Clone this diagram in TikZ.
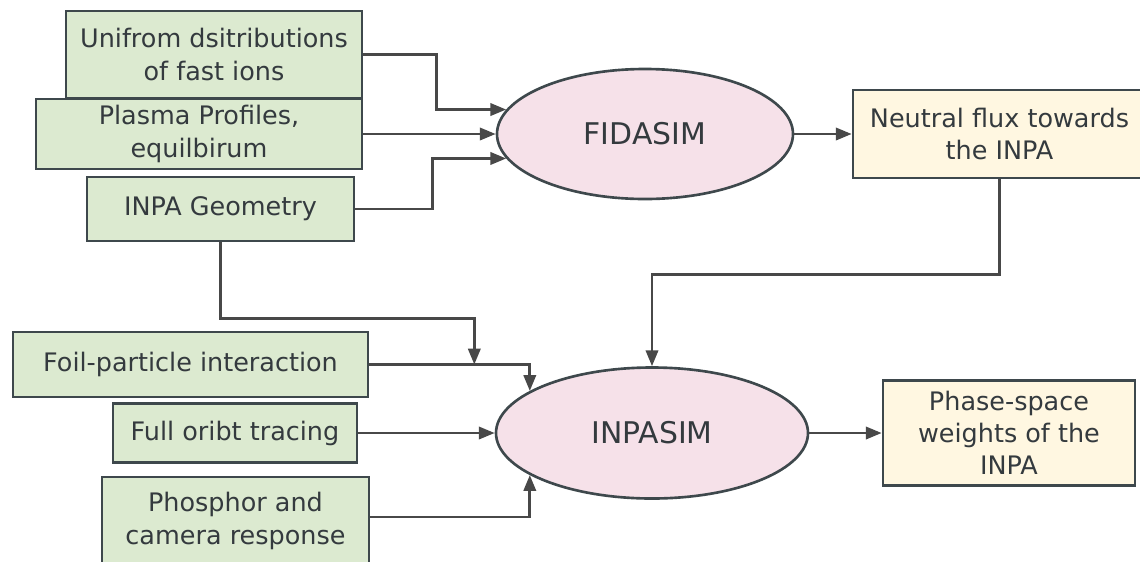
\documentclass[tikz,border=0pt]{standalone}
\usepackage{fontspec}
\setmainfont{DejaVu Sans}
\usepackage{xcolor}
\usetikzlibrary{arrows.meta,calc,positioning,shapes.geometric}
\definecolor{boxgreen}{RGB}{220,234,208}
\definecolor{boxyellow}{RGB}{255,247,225}
\definecolor{simpink}{RGB}{246,225,233}
\definecolor{edgegray}{RGB}{62,72,76}
\definecolor{linegray}{RGB}{72,72,72}
\definecolor{textgray}{RGB}{52,58,62}
\tikzset{%
	source/.style  = {draw=edgegray, fill=boxgreen, rectangle, line width=1.5pt, text=textgray, align=center, font=\fontsize{14.5}{19.3}\selectfont},
	result/.style  = {draw=edgegray, fill=boxyellow, rectangle, line width=1.5pt, text=textgray, align=center, font=\fontsize{14.5}{18.2}\selectfont},
	program/.style = {draw=edgegray, fill=simpink, ellipse, line width=1.5pt, text=textgray, inner sep=0pt, font=\fontsize{17}{20}\selectfont},
	arrow/.style   = {draw=linegray, line width=1.5pt, -{Triangle[length=9pt,width=7pt]}},
}

\begin{document}
\begin{tikzpicture}
	\useasboundingbox (0,0) rectangle (22.8,-11.22);

	% inputs of FIDASIM
	\node[source, minimum width=5.92cm, minimum height=1.74cm] (unif) at (4.28,-1.09) {Unifrom dsitributions\\of fast ions};
	\node[source, minimum width=6.52cm, minimum height=1.40cm] (plas) at (3.98,-2.68) {Plasma Profiles,\\equilbirum};
	\node[source, minimum width=5.34cm, minimum height=1.28cm] (geo) at (4.41,-4.18) {INPA Geometry};

	\node[program, minimum width=5.92cm, minimum height=2.60cm] (fida) at (12.90,-2.68) {FIDASIM};
	\node[result, minimum width=5.86cm, minimum height=1.76cm] (neut) at (19.99,-2.68) {Neutral flux towards\\the INPA};

	% inputs of INPASIM
	\node[source, minimum width=7.10cm, minimum height=1.30cm] (foil) at (3.81,-7.29) {Foil-particle interaction};
	\node[source, minimum width=4.88cm, minimum height=1.18cm] (full) at (4.70,-8.66) {Full oribt tracing};
	\node[source, minimum width=5.34cm, minimum height=1.76cm] (phos) at (4.71,-10.42) {Phosphor and\\camera response};

	\node[program, minimum width=6.24cm, minimum height=2.62cm] (inpa) at (13.04,-8.66) {INPASIM};
	\node[result, minimum width=5.04cm, minimum height=2.10cm] (phas) at (20.18,-8.66) {Phase-space\\weights of the\\INPA};

	\path (foil.east) ++(2.10,0) coordinate (join);

	\draw[arrow] (unif.east) -- ++(1.46,0) |- (fida.170);
	\draw[arrow] (plas.east) -- (fida.west);
	\draw[arrow] (geo.east) -- ++(1.54,0) |- (fida.190);
	\draw[arrow] (fida.east) -- (neut.west);
	\draw[arrow] (neut.south) -- ++(0,-1.90) -| (inpa.north);

	\draw[arrow] (geo.south) -- ++(0,-1.52) -| (join);
	\draw[arrow] (foil.east) -| (inpa.161);
	\draw[arrow] (full.east) -- (inpa.west);
	\draw[arrow] ([yshift=0.08cm]phos.east) -| (inpa.199);
	\draw[arrow] (inpa.east) -- (phas.west);
\end{tikzpicture}
\end{document}
